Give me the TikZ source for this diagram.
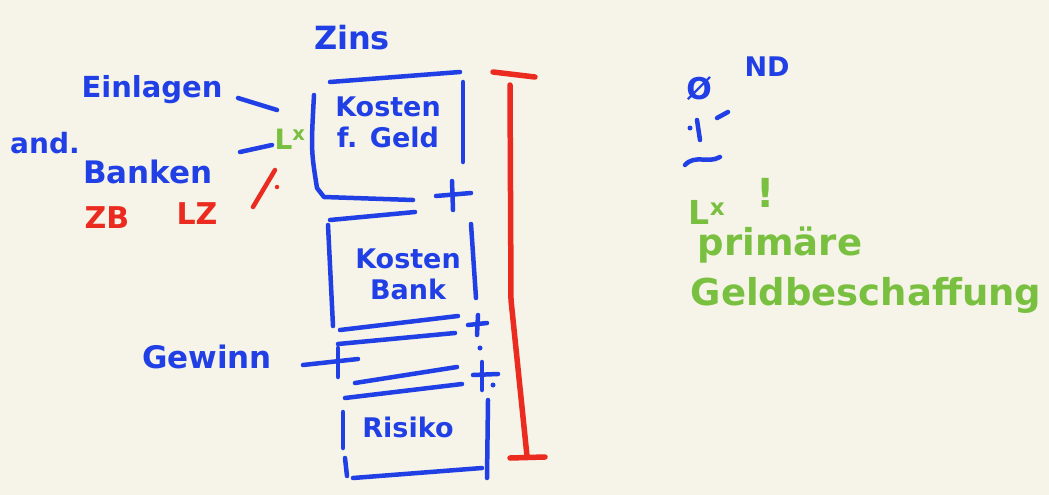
\documentclass[tikz,border=0pt]{standalone}
\usepackage{fontspec}
\setmainfont{DejaVu Sans}
\definecolor{bg}{HTML}{F6F3E8}
\definecolor{pb}{HTML}{2040E6}
\definecolor{pr}{HTML}{EC2B20}
\definecolor{pg}{HTML}{7AC040}
\tikzset{
  ink/.style={line width=4.5pt, line cap=round, line join=round},
  bink/.style={ink, draw=pb},
  rink/.style={ink, draw=pr, line width=5.5pt},
  gink/.style={ink, draw=pg},
  txt/.style={inner sep=0pt, font=\bfseries\fontsize{#1}{#1}\selectfont},
  btxt/.style={txt=#1, text=pb},
  rtxt/.style={txt=#1, text=pr},
  gtxt/.style={txt=#1, text=pg}
}
\begin{document}
\begin{tikzpicture}[x=1pt,y=-1pt]
\fill[bg] (0,0) rectangle (1049,495);
\useasboundingbox (0,0) rectangle (1049,495);

% title
\node[btxt=32] (zins) at (352,38) {Zins};

% box 1
\node[btxt=27, align=center] (kg) at (388,122) {Kosten\\[4pt]f. Geld};
\draw[bink] (330,82) -- (460,72);
\draw[bink] (314,95) .. controls (311,150) .. (317,188) -- (324,197) -- (413,200);
\draw[bink] (463,82) -- (463,162);
\draw[bink] (436,196) -- (471,193);
\draw[bink] (452,181) -- (453,210);

% box 2
\node[btxt=27, align=center] (kb) at (408,274) {Kosten\\[4pt]Bank};
\draw[bink] (330,220) -- (415,212);
\draw[bink] (328,225) -- (333,326);
\draw[bink] (471,224) -- (476,298);
\draw[bink] (340,330) -- (458,316);
\draw[bink] (338,344) -- (455,333);
\draw[bink] (468,325) -- (487,323);
\draw[bink] (478,315) -- (477,335);
\fill[pb] (480,348) circle (2.5pt);

% Gewinn
\node[btxt=31] (gew) at (207,357) {Gewinn};
\coordinate (gl) at (303,365);
\coordinate (gr) at (358,359);
\draw[bink] (gl) -- (gr);
\draw[bink] (338,348) -- (338,377);
\draw[bink] (355,383) -- (457,367);
\draw[bink] (345,398) -- (462,384);
\draw[bink] (473,375) -- (498,374);
\draw[bink] (482,362) -- (482,390);
\fill[pb] (493,385) circle (2.5pt);

% box 3
\node[btxt=27] (ris) at (408,427) {Risiko};
\draw[bink] (343,412) -- (343,448);
\draw[bink] (345,458) -- (347,476);
\draw[bink] (488,400) -- (487,478);
\draw[bink] (353,478) -- (482,468);

% red bracket
\draw[rink] (493,72) -- (535,77);
\draw[rink] (510,85) -- (511,300) -- (527,456);
\draw[rink] (510,458) -- (545,457);

% left labels
\node[btxt=29] (ein) at (152,90) {Einlagen};
\node[btxt=28] (and) at (45,143) {and.};
\node[btxt=31] (ban) at (148,172) {Banken};
\node[gtxt=28] (lx) at (290,139) {L\textsuperscript{x}};
\coordinate (e1) at (238,98);
\coordinate (e2) at (277,110);
\coordinate (b1) at (240,152);
\coordinate (b2) at (272,145);
\draw[bink] (e1) -- (e2);
\draw[bink] (b1) -- (b2);
\draw[rink, line width=4.5pt] (275,170) -- (253,207);
\fill[pr] (277,187) circle (2.2pt);
\node[rtxt=30] (zb) at (107,218) {ZB};
\node[rtxt=30] (lz) at (197,214) {LZ};

% right side
\node[btxt=30] (avg) at (699,89) {Ø};
\node[btxt=27] (nd) at (767,67) {ND};
\fill[pb] (690,128) circle (2.5pt);
\draw[bink] (697,120) -- (700,140);
\draw[bink] (717,118) -- (728,112);
\draw[bink] (685,165) .. controls (695,154) and (708,164) .. (720,157);
\node[gtxt=33] (lx2) at (707,212) {L\textsuperscript{x}};
\node[gtxt=40] (ex) at (766,193) {!};
\node[gtxt=37] (prim) at (780,245) {primäre};
\node[gtxt=37] (geld) at (866,295) {Geldbeschaffung};
\end{tikzpicture}
\end{document}
